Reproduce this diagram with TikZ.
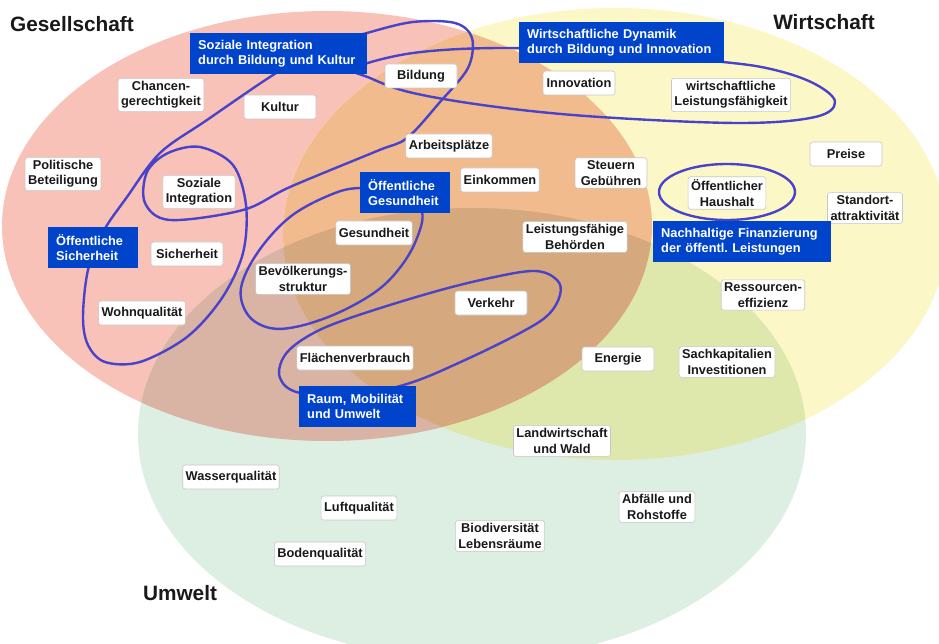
\documentclass[tikz,border=0pt]{standalone}
\usepackage{fontspec}
\setmainfont{Liberation Sans}
\frenchspacing
\begin{document}
\begin{tikzpicture}[x=1pt,y=-1pt,
  lbl/.style={draw=black!22, line width=0.6pt, fill=white, rounded corners=2.5pt,
    font=\fontsize{12.8}{15.4}\selectfont\bfseries, text=black!90, align=center,
    minimum width=72pt, minimum height=24pt, inner xsep=3pt, inner ysep=3pt},
  bbox/.style={fill=boxblue, text=white, anchor=north west,
    font=\fontsize{12.8}{15}\selectfont\bfseries\frenchspacing, align=left,
    minimum height=41pt, inner xsep=8pt, inner ysep=2pt},
  loop/.style={draw=loopblue, line width=2.4pt},
  head/.style={font=\fontsize{20.8}{24}\selectfont\bfseries, text=black!90}]
\definecolor{gcol}{RGB}{248,194,185}
\definecolor{wcol}{RGB}{252,247,198}
\definecolor{ucol}{RGB}{221,238,227}
\definecolor{gwcol}{RGB}{242,187,141}
\definecolor{gucol}{RGB}{217,179,164}
\definecolor{wucol}{RGB}{223,232,172}
\definecolor{gwucol}{RGB}{213,168,126}
\definecolor{boxblue}{RGB}{0,68,204}
\definecolor{loopblue}{RGB}{74,66,200}
\path[use as bounding box, fill=white] (0,0) rectangle (939,644);
% circles
\fill[gcol] (327,226) ellipse [x radius=325, y radius=215];
\fill[wcol] (615,234) ellipse [x radius=332, y radius=226];
\fill[ucol] (472,434) ellipse [x radius=334, y radius=226];
\begin{scope}
  \clip (327,226) ellipse [x radius=325, y radius=215];
  \fill[gwcol] (615,234) ellipse [x radius=332, y radius=226];
  \fill[gucol] (472,434) ellipse [x radius=334, y radius=226];
  \clip (615,234) ellipse [x radius=332, y radius=226];
  \fill[gwucol] (472,434) ellipse [x radius=334, y radius=226];
\end{scope}
\begin{scope}
  \clip (615,234) ellipse [x radius=332, y radius=226];
  \begin{scope}[even odd rule]
    \clip (327,226) ellipse [x radius=325, y radius=215] (-10,-10) rectangle (950,660);
    \fill[wucol] (472,434) ellipse [x radius=334, y radius=226];
  \end{scope}
\end{scope}
% loops
\draw[loop] plot[smooth cycle, tension=0.55] coordinates {
  (367,33) (413,22) (455,23) (472,38) (468,68) (440,102) (407,138) (377,151)
  (290,187) (243,210) (170,220) (145,203) (147,172) (168,153) (200,147)
  (233,165) (246,205) (243,253) (222,298) (187,337) (140,362) (105,362)
  (88,345) (83,317) (88,270) (103,232) (127,197) (160,153) (207,120)
  (273,75) (320,48)};
\draw[loop] plot[smooth cycle, tension=0.6] coordinates {
  (355,68) (413,53) (500,48) (600,52) (723,62) (775,70) (815,84) (835,102)
  (815,117) (740,123) (600,117) (497,107) (413,93) (370,78)};
\draw[loop] plot[smooth cycle, tension=0.6] coordinates {
  (405,192) (360,188) (330,195) (290,217) (258,252) (241,288) (248,315)
  (270,328) (300,326) (340,312) (378,290) (402,265) (417,238) (422,212)};
\draw[loop] plot[smooth cycle, tension=0.6] coordinates {
  (355,395) (300,393) (280,378) (285,355) (310,335) (350,318) (430,293)
  (490,278) (535,271) (557,280) (560,295) (548,315) (520,333) (465,360)
  (410,383)};
\draw[loop] (727,192) ellipse [x radius=68, y radius=28];
% labels
\node[lbl] (bildung) at (421,76) {Bildung};
\node[lbl] (chancen) at (161,95) {Chancen-\\gerechtigkeit};
\node[lbl] (kultur) at (280,107) {Kultur};
\node[lbl] (arbeit) at (449,146) {Arbeitsplätze};
\node[lbl] (polit) at (63,174) {Politische\\Beteiligung};
\node[lbl] (sozint) at (199,192) {Soziale\\Integration};
\node[lbl] (einkommen) at (500,180) {Einkommen};
\node[lbl] (innov) at (579,83) {Innovation};
\node[lbl] (wleist) at (731,95) {wirtschaftliche\\Leistungsfähigkeit};
\node[lbl] (steuern) at (611,173) {Steuern\\Gebühren};
\node[lbl] (preise) at (846,154) {Preise};
\node[lbl] (haushalt) at (727,193) {Öffentlicher\\Haushalt};
\node[lbl] (standort) at (865,208) {Standort-\\attraktivität};
\node[lbl] (gesund) at (374,233) {Gesundheit};
\node[lbl] (sicher) at (187,254) {Sicherheit};
\node[lbl] (bevoelk) at (303,279) {Bevölkerungs-\\struktur};
\node[lbl] (wohn) at (142,313) {Wohnqualität};
\node[lbl] (behoerden) at (575,237) {Leistungsfähige\\Behörden};
\node[lbl] (verkehr) at (491,303) {Verkehr};
\node[lbl] (ressourcen) at (763,295) {Ressourcen-\\effizienz};
\node[lbl] (flaeche) at (355,358) {Flächenverbrauch};
\node[lbl] (energie) at (618,359) {Energie};
\node[lbl] (sachkap) at (727,362) {Sachkapitalien\\Investitionen};
\node[lbl] (landw) at (562,441) {Landwirtschaft\\und Wald};
\node[lbl] (wasser) at (231,477) {Wasserqualität};
\node[lbl] (luft) at (359,508) {Luftqualität};
\node[lbl] (bio) at (500,536) {Biodiversität\\Lebensräume};
\node[lbl] (abfall) at (657,507) {Abfälle und\\Rohstoffe};
\node[lbl] (boden) at (320,554) {Bodenqualität};
% blue boxes
\node[bbox, text width=161pt] (b1) at (190,33) {Soziale Integration\\durch Bildung und Kultur};
\node[bbox, text width=189pt] (b2) at (519,22) {Wirtschaftliche Dynamik\\durch Bildung und Innovation};
\node[bbox, text width=74pt] (b3) at (360,172) {Öffentliche\\Gesundheit};
\node[bbox, text width=74pt] (b4) at (48,227) {Öffentliche\\Sicherheit};
\node[bbox, text width=162pt] (b5) at (653,221) {Nachhaltige Finanzierung\\der öffentl. Leistungen};
\node[bbox, text width=101pt] (b6) at (299,386) {Raum, Mobilität\\und Umwelt};
% headings
\node[head] (hg) at (72,24) {Gesellschaft};
\node[head] (hw) at (824,22) {Wirtschaft};
\node[head] (hu) at (180,593) {Umwelt};
\end{tikzpicture}
\end{document}
